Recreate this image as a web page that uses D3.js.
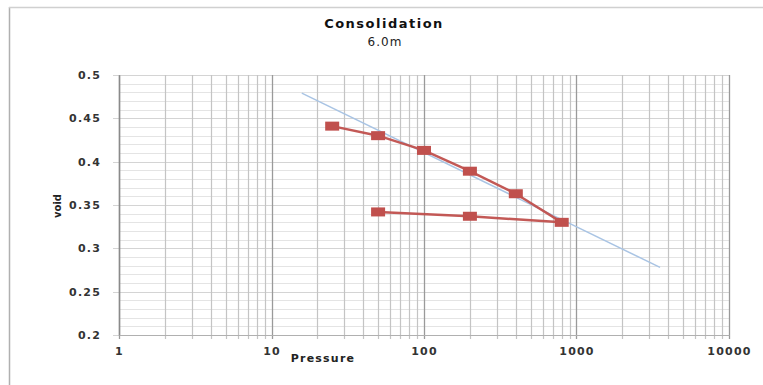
<!DOCTYPE html>
<html><head><meta charset="utf-8">
<script src="https://cdn.jsdelivr.net/npm/d3@7"></script>
<style>body{margin:0;background:#fff;} svg{display:block;}</style>
</head><body>
<svg id="c" width="763" height="385"></svg>
<script>
const pressure = [25, 50, 100, 200, 400, 800, 200, 50];
const voidRatio = [0.441, 0.430, 0.413, 0.389, 0.363, 0.330, 0.337, 0.342];
const trendPressure = [15.8, 3530];
const trendVoid = [0.479, 0.278];
const xTicks = [1, 10, 100, 1000, 10000];
const yTicks = [0.2, 0.25, 0.3, 0.35, 0.4, 0.45, 0.5];
const title = "Consolidation";
const subtitle = "6.0m";

const svg = d3.select("#c");
const font = "DejaVu Sans, Verdana, sans-serif";
const pLeft = 119, pRight = 729, pTop = 75, pBottom = 335;
const x = d3.scaleLog().domain([1, 10000]).range([pLeft, pRight]);
const y = d3.scaleLinear().domain([0.2, 0.5]).range([pBottom, pTop]);

// outer border (left and top)
svg.append("line").attr("x1", 9.5).attr("x2", 9.5).attr("y1", 7).attr("y2", 385).attr("stroke", "#b0b0b0").attr("stroke-width", 1.5);
svg.append("line").attr("x1", 9).attr("x2", 763).attr("y1", 7.5).attr("y2", 7.5).attr("stroke", "#d0d0d0").attr("stroke-width", 1.5);

// horizontal gridlines (minor 0.01)
const hMinor = d3.range(0.2, 0.5001, 0.01);
svg.append("g").selectAll("line").data(hMinor).join("line")
  .attr("x1", pLeft).attr("x2", pRight)
  .attr("y1", d => Math.round(y(d)) + 0.5).attr("y2", d => Math.round(y(d)) + 0.5)
  .attr("stroke", "#e4e4e4").attr("stroke-width", 1);
svg.append("g").selectAll("line").data(yTicks).join("line")
  .attr("x1", pLeft - 6).attr("x2", pRight)
  .attr("y1", d => Math.round(y(d)) + 0.5).attr("y2", d => Math.round(y(d)) + 0.5)
  .attr("stroke", "#d4d4d4").attr("stroke-width", 1);

// vertical gridlines
const vMinor = [];
for (let e = 0; e < 4; e++) for (let m = 2; m <= 9; m++) vMinor.push(m * Math.pow(10, e));
svg.append("g").selectAll("line").data(vMinor).join("line")
  .attr("x1", d => Math.round(x(d)) + 0.5).attr("x2", d => Math.round(x(d)) + 0.5)
  .attr("y1", pTop).attr("y2", pBottom + 4)
  .attr("stroke", "#c4c4c4").attr("stroke-width", 1.2);
svg.append("g").selectAll("line").data(xTicks).join("line")
  .attr("x1", d => Math.round(x(d)) + 0.5).attr("x2", d => Math.round(x(d)) + 0.5)
  .attr("y1", pTop).attr("y2", pBottom + 4)
  .attr("stroke", "#9a9a9a").attr("stroke-width", 1.3);

// axes with D3
const yAxis = d3.axisLeft(y).tickValues(yTicks).tickSize(0).tickPadding(18).tickFormat(d3.format("~g"));
const gy = svg.append("g").attr("transform", `translate(${pLeft},0)`).call(yAxis);
gy.select(".domain").attr("stroke", "#8a8a8a").attr("stroke-width", 1.5);
gy.selectAll("text").attr("font-family", font).attr("font-size", 11).attr("fill", "#333")
  .attr("font-weight", "bold").attr("letter-spacing", 1.2);

const xAxis = d3.axisBottom(x).tickValues(xTicks).tickSize(0).tickPadding(12).tickFormat(d3.format("d"));
const gx = svg.append("g").attr("transform", `translate(0,${pBottom})`).call(xAxis);
gx.select(".domain").attr("stroke", "#b0b0b0").attr("stroke-width", 1);
gx.selectAll("text").attr("font-family", font).attr("font-size", 11).attr("fill", "#333")
  .attr("font-weight", "bold").attr("letter-spacing", 1.2);

// trendline
svg.append("path")
  .datum(trendPressure.map((p, i) => [p, trendVoid[i]]))
  .attr("d", d3.line().x(d => x(d[0])).y(d => y(d[1])))
  .attr("fill", "none").attr("stroke", "#a9c4e4").attr("stroke-width", 1.5);

// data series
const pts = pressure.map((p, i) => [p, voidRatio[i]]);
svg.append("path").datum(pts)
  .attr("d", d3.line().x(d => x(d[0])).y(d => y(d[1])))
  .attr("fill", "none").attr("stroke", "#c0504d").attr("stroke-width", 2.5).attr("opacity", 0.95);
svg.append("g").selectAll("rect").data(pts).join("rect")
  .attr("x", d => x(d[0]) - 7).attr("y", d => y(d[1]) - 4.5)
  .attr("width", 14).attr("height", 9)
  .attr("fill", "#c0504d");

// titles
svg.append("text").attr("x", 384).attr("y", 28).attr("text-anchor", "middle")
  .attr("font-family", font).attr("font-size", 13).attr("font-weight", "bold").attr("fill", "#111")
  .attr("letter-spacing", 1.5).text(title);
svg.append("text").attr("x", 385).attr("y", 46).attr("text-anchor", "middle")
  .attr("font-family", font).attr("font-size", 12).attr("fill", "#222").attr("letter-spacing", 1).text(subtitle);
svg.append("text").attr("x", 323).attr("y", 362).attr("text-anchor", "middle")
  .attr("font-family", font).attr("font-size", 11).attr("font-weight", "bold").attr("fill", "#222")
  .attr("letter-spacing", 1.2).text("Pressure");
svg.append("text").attr("transform", "translate(61,206) rotate(-90)").attr("text-anchor", "middle")
  .attr("font-family", font).attr("font-size", 10).attr("font-weight", "bold").attr("fill", "#222").text("void");
</script>
</body></html>
